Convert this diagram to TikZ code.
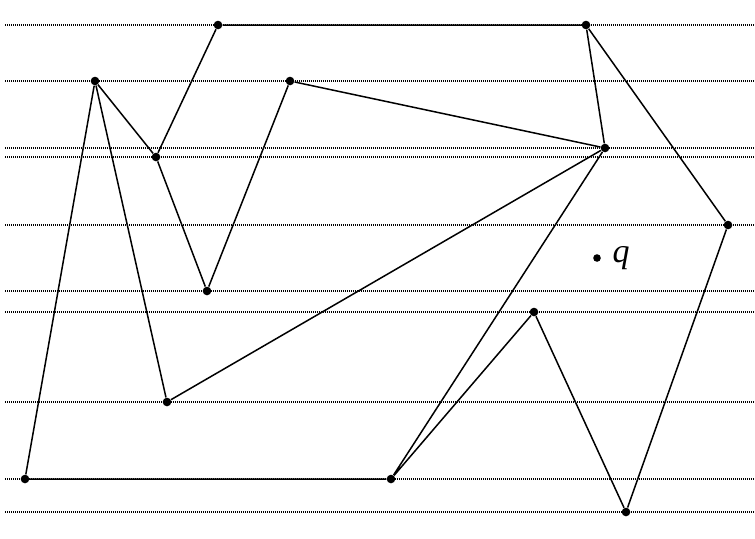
\documentclass[tikz,border=0pt]{standalone}
\usepackage{fontspec}
\setmainfont{Liberation Serif}
\usetikzlibrary{positioning}
\tikzset{
  vertex/.style={circle, fill=black, inner sep=0pt, minimum size=4.3pt},
  sweepline/.style={line width=0.65pt, dash pattern=on 0.6pt off 0.4pt},
  side/.style={line width=0.75pt},
}

\begin{document}
\begin{tikzpicture}[x=0.5pt, y=-0.5pt]
            \useasboundingbox (0,0) rectangle (755,538);

            % ends of the sweep lines
            \coordinate (west) at (5,0);
            \coordinate (east) at (755,0);

            % vertices
            \node (a) [vertex] at (218,25) {};
            \node (b) [vertex] at (586,25) {};
            \node (c) [vertex] at (95,81) {};
            \node (d) [vertex] at (290,81) {};
            \node (e) [vertex] at (605,148) {};
            \node (f) [vertex] at (156,157) {};
            \node (g) [vertex] at (728,225) {};
            \node (h) [vertex] at (207,291) {};
            \node (i) [vertex] at (534,312) {};
            \node (j) [vertex] at (167,402) {};
            \node (k) [vertex] at (25,479) {};
            \node (l) [vertex] at (391,479) {};
            \node (m) [vertex] at (626,512) {};

            % query point
            \node (q) [vertex, minimum size=3.8pt] at (597,258) {};
            \node (qlabel) [right=5.5pt of q, inner sep=0pt,
               font=\fontsize{17}{20}\selectfont\itshape] {q};

            % sweep lines
            \draw [sweepline]
              (west |- a) -- (east |- a)
              (west |- c) -- (east |- c)
              (west |- e) -- (east |- e)
              (west |- f) -- (east |- f)
              (west |- g) -- (east |- g)
              (west |- h) -- (east |- h)
              (west |- i) -- (east |- i)
              (west |- j) -- (east |- j)
              (west |- k) -- (east |- k)
              (west |- m) -- (east |- m)
              ;

            % edges
            \draw [side]
              (a) -- (b)
              (b) -- (e)
              (b) -- (g)
              (a) -- (f)
              (c) -- (f)
              (c) -- (k)
              (c) -- (j)
              (f) -- (h)
              (h) -- (d)
              (d) -- (e)
              (e) -- (j)
              (e) -- (l)
              (k) -- (l)
              (l) -- (i)
              (i) -- (m)
              (m) -- (g)
              ;
        \end{tikzpicture}
\end{document}
